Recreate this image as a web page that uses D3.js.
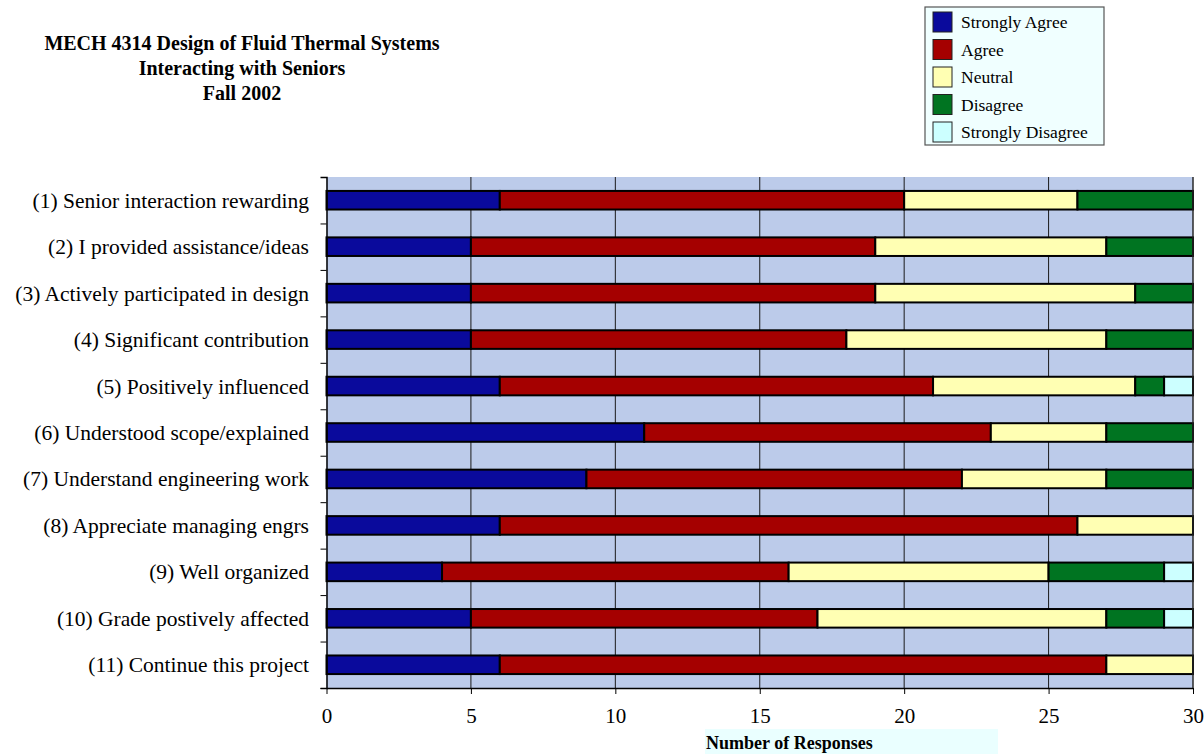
<!DOCTYPE html>
<html>
<head>
<meta charset="utf-8">
<script src="https://cdn.jsdelivr.net/npm/d3@7"></script>
<style>
  html, body { margin: 0; padding: 0; background: #ffffff; }
  svg { display: block; }
  text { font-family: "Liberation Serif", "Times New Roman", serif; fill: #000; }
</style>
</head>
<body>
<svg id="chart" width="1204" height="754"></svg>
<script>
// Survey items (top to bottom)
const categories = [
  "(1) Senior interaction rewarding",
  "(2) I provided assistance/ideas",
  "(3) Actively participated in design",
  "(4) Significant contribution",
  "(5) Positively influenced",
  "(6) Understood scope/explained",
  "(7) Understand engineering work",
  "(8) Appreciate managing engrs",
  "(9) Well organized",
  "(10) Grade postively affected",
  "(11) Continue this project"
];

// Number of responses per answer
const stronglyAgree    = [6, 5, 5, 5, 6, 11, 9, 6, 4, 5, 6];
const agree            = [14, 14, 14, 13, 15, 12, 13, 20, 12, 12, 21];
const neutral          = [6, 8, 9, 9, 7, 4, 5, 4, 9, 10, 3];
const disagree         = [4, 3, 2, 3, 1, 3, 3, 0, 4, 2, 0];
const stronglyDisagree = [0, 0, 0, 0, 1, 0, 0, 0, 1, 1, 0];

const seriesNames  = ["Strongly Agree", "Agree", "Neutral", "Disagree", "Strongly Disagree"];
const seriesColors = ["#0a0a9c", "#a50000", "#ffffb3", "#007421", "#ccffff"];
const xTicks = [0, 5, 10, 15, 20, 25, 30];

const titleLines = [
  "MECH 4314 Design of Fluid Thermal Systems",
  "Interacting with Seniors",
  "Fall 2002"
];

const seriesValues = [stronglyAgree, agree, neutral, disagree, stronglyDisagree];
const table = categories.map((c, i) => {
  const row = { category: c };
  seriesNames.forEach((s, k) => { row[s] = seriesValues[k][i]; });
  return row;
});

const svg = d3.select("#chart");
const plot = { left: 326.5, right: 1193, top: 177, bottom: 688 };

const x = d3.scaleLinear().domain([0, 30]).range([plot.left, plot.right]);
const y = d3.scaleBand().domain(categories).range([plot.top, plot.bottom])
  .paddingInner(0.6).paddingOuter(0.3);
const yEdges = d3.scaleLinear().domain([0, categories.length]).range([plot.top, plot.bottom]);
const color = d3.scaleOrdinal().domain(seriesNames).range(seriesColors);

// Plot background
svg.append("rect")
  .attr("x", plot.left).attr("y", plot.top)
  .attr("width", plot.right - plot.left).attr("height", plot.bottom - plot.top)
  .attr("fill", "#bccbea");

// Vertical gridlines
svg.append("g")
  .selectAll("line")
  .data(xTicks.filter(t => t > 0))
  .join("line")
  .attr("x1", d => x(d)).attr("x2", d => x(d))
  .attr("y1", plot.top).attr("y2", plot.bottom)
  .attr("stroke", "#1a1a1a").attr("stroke-width", 1);

// Stacked bars
const stacked = d3.stack().keys(seriesNames)(table);
svg.append("g")
  .selectAll("g")
  .data(stacked)
  .join("g")
  .attr("fill", d => color(d.key))
  .selectAll("rect")
  .data(d => d.filter(s => s[1] - s[0] > 0))
  .join("rect")
  .attr("x", d => x(d[0]))
  .attr("y", d => y(d.data.category))
  .attr("width", d => x(d[1]) - x(d[0]))
  .attr("height", y.bandwidth())
  .attr("stroke", "#000")
  .attr("stroke-width", 2);

// Left axis: line with ticks at category boundaries
const yAxis = svg.append("g")
  .attr("transform", `translate(${plot.left},0)`)
  .call(d3.axisLeft(yEdges)
    .tickValues(d3.range(1, categories.length + 1))
    .tickSize(6).tickFormat(""));
yAxis.select(".domain").attr("stroke", "#000").attr("stroke-width", 1.5);
yAxis.selectAll(".tick line").attr("stroke", "#000").attr("stroke-width", 1);

// Category labels
svg.append("g")
  .selectAll("text")
  .data(categories)
  .join("text")
  .attr("x", 309)
  .attr("y", d => y(d) + y.bandwidth() / 2)
  .attr("dy", "0.35em")
  .attr("text-anchor", "end")
  .style("font-size", "21.5px")
  .text(d => d);

// Bottom axis
const xAxis = svg.append("g")
  .attr("transform", `translate(0,${plot.bottom})`)
  .call(d3.axisBottom(x).tickValues(xTicks).tickSize(6).tickPadding(14).tickSizeOuter(0));
xAxis.select(".domain").attr("stroke", "#000").attr("stroke-width", 1.5);
xAxis.selectAll(".tick line").attr("stroke", "#000");
xAxis.selectAll(".tick text")
  .style("font-size", "21px")
  .style("font-family", "'Liberation Serif', serif")
  .attr("fill", "#000");

// Right border of plot
svg.append("line")
  .attr("x1", plot.right).attr("x2", plot.right)
  .attr("y1", plot.top).attr("y2", plot.bottom)
  .attr("stroke", "#333").attr("stroke-width", 1);

// Axis title with its tinted box
svg.append("rect")
  .attr("x", 705).attr("y", 729).attr("width", 293).attr("height", 25)
  .attr("fill", "#eaffff");
svg.append("text")
  .attr("x", 706).attr("y", 749)
  .style("font-size", "18px").style("font-weight", "bold")
  .text("Number of Responses");

// Title
svg.append("g")
  .selectAll("text")
  .data(titleLines)
  .join("text")
  .attr("x", 242)
  .attr("y", (d, i) => 50 + i * 25)
  .attr("text-anchor", "middle")
  .style("font-size", "20px").style("font-weight", "bold")
  .text(d => d);

// Legend
const legend = svg.append("g").attr("transform", "translate(925,7)");
legend.append("rect")
  .attr("width", 179).attr("height", 138)
  .attr("fill", "#f0ffff").attr("stroke", "#555").attr("stroke-width", 1.2);
const items = legend.selectAll("g.item")
  .data(seriesNames)
  .join("g")
  .attr("class", "item")
  .attr("transform", (d, i) => `translate(8,${5 + i * 27.5})`);
items.append("rect")
  .attr("width", 19).attr("height", 20)
  .attr("fill", d => color(d))
  .attr("stroke", "#222").attr("stroke-width", 1);
items.append("text")
  .attr("x", 28).attr("y", 10).attr("dy", "0.35em")
  .style("font-size", "17.5px")
  .text(d => d);
</script>
</body>
</html>
